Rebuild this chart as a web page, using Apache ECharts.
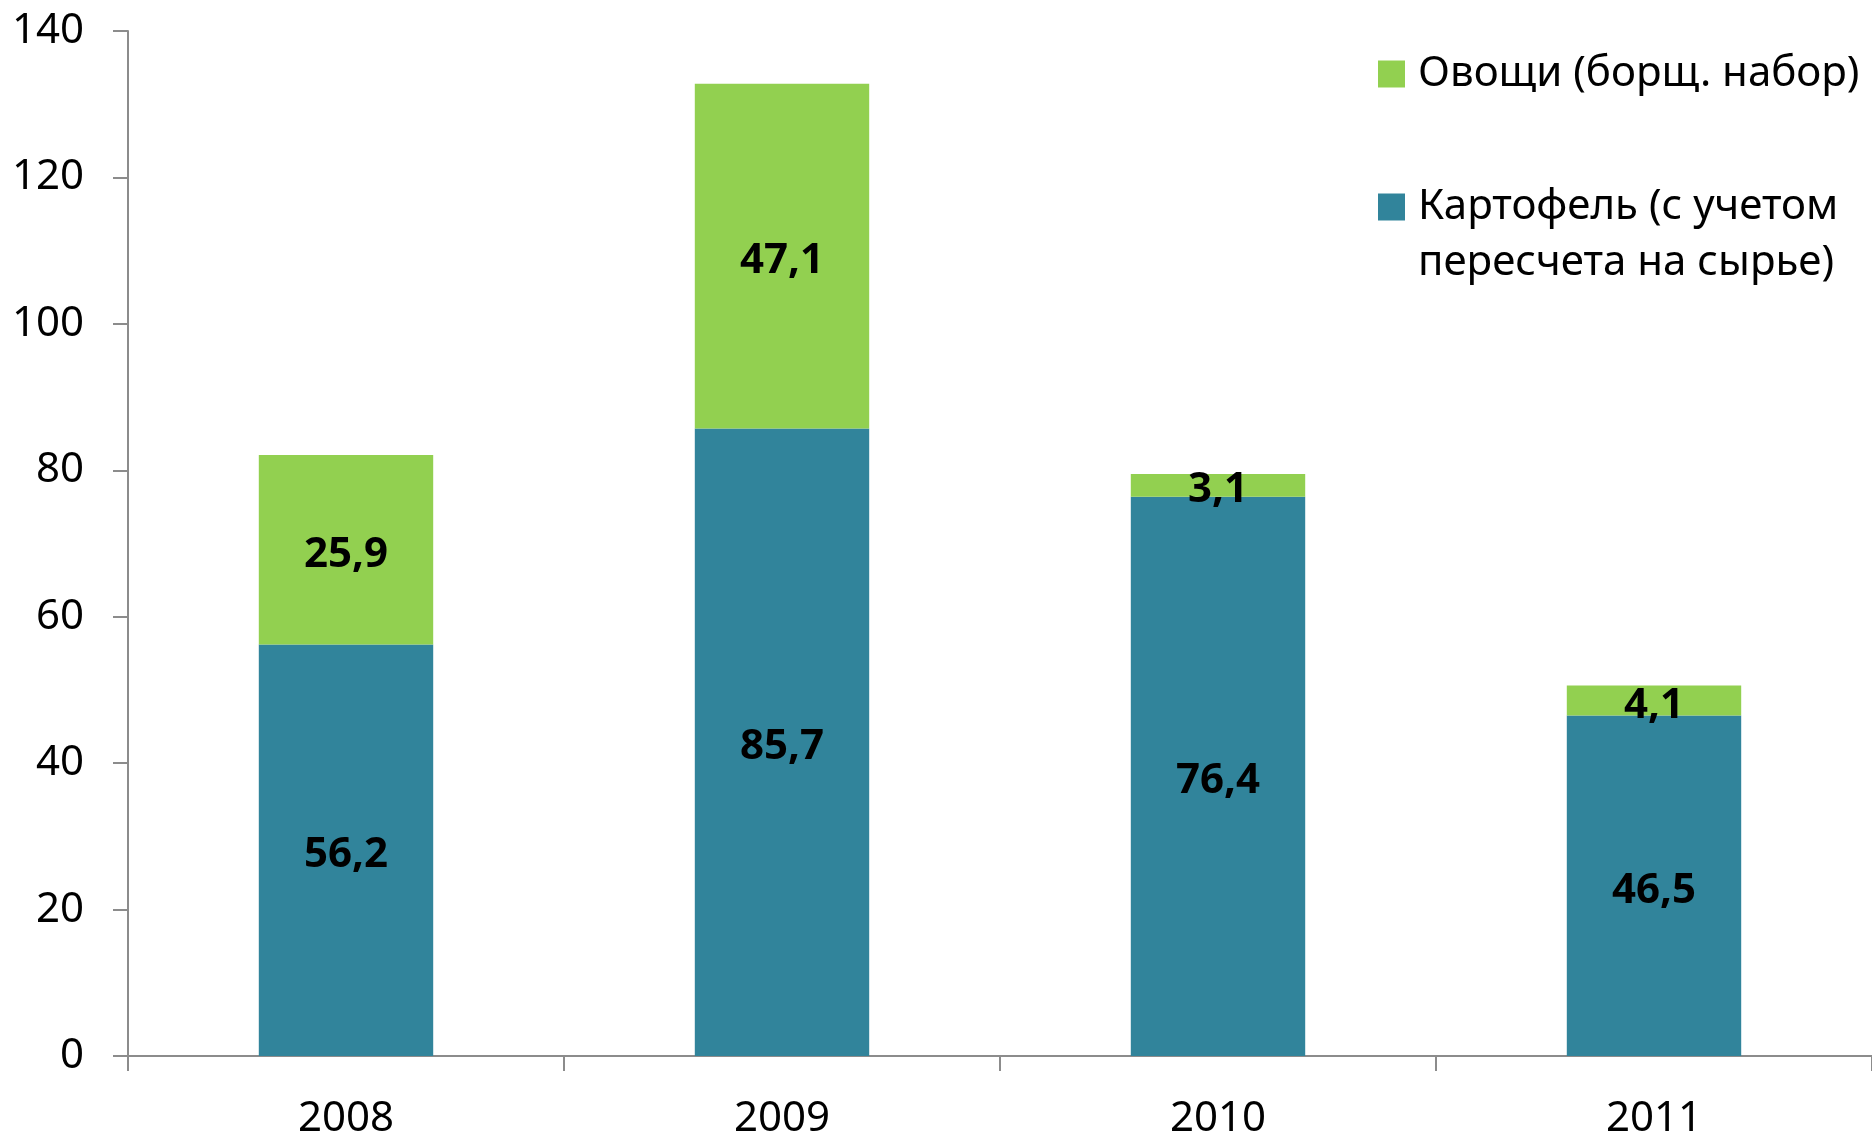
<!DOCTYPE html>
<html lang="ru">
<head>
    <meta charset="UTF-8">
    <title>Овощи и картофель</title>
    <script src="https://cdn.jsdelivr.net/npm/echarts@6/dist/echarts.min.js"></script>
    <style>
        html, body { margin: 0; padding: 0; background: #fff; }
    </style>
</head>
<body>

<div id="main" style="width: 1872px;height: 1140px"></div>

<script>
    // данные
    var years = ['2008', '2009', '2010', '2011'];
    var potato = [56.2, 85.7, 76.4, 46.5];
    var vegetables = [25.9, 47.1, 3.1, 4.1];
    var potatoName = 'Картофель (с учетом\nпересчета на сырье)';
    var vegName = 'Овощи (борщ. набор)';

    var font = '"Noto Sans", "DejaVu Sans", sans-serif';
    var axisColor = '#8c8c8c';

    var myChart = echarts.init(document.getElementById('main'));

    function labelFmt(p) {
        return String(p.value).replace('.', ',');
    }

    var option = {
        animation: false,
        grid: {
            left: 128,
            right: 0,
            top: 31,
            bottom: 81
        },
        legend: {
            orient: 'vertical',
            left: 1378,
            top: 46,
            padding: 0,
            itemGap: 21,
            itemWidth: 27,
            itemHeight: 27,
            icon: 'rect',
            data: [vegName, potatoName],
            // пустая строка сверху, чтобы значок стоял напротив первой строки
            formatter: function (name) {
                return name === potatoName ? '\n' + name : name;
            },
            textStyle: {
                fontFamily: font,
                fontSize: 42,
                lineHeight: 56,
                color: '#000',
                padding: [0, 0, 0, 8]
            }
        },
        xAxis: {
            type: 'category',
            data: years,
            axisLine: { lineStyle: { color: axisColor, width: 2 } },
            axisTick: {
                show: true,
                length: 15,
                lineStyle: { color: axisColor, width: 2 }
            },
            axisLabel: {
                fontFamily: font,
                fontSize: 42,
                color: '#000',
                margin: 42
            }
        },
        yAxis: {
            type: 'value',
            min: 0,
            max: 140,
            interval: 20,
            splitLine: { show: false },
            axisLine: { show: true, lineStyle: { color: axisColor, width: 2 } },
            axisTick: {
                show: true,
                length: 15,
                lineStyle: { color: axisColor, width: 2 }
            },
            axisLabel: {
                fontFamily: font,
                fontSize: 42,
                color: '#000',
                margin: 44
            }
        },
        series: [
            {
                name: potatoName,
                type: 'bar',
                stack: 'total',
                barCategoryGap: '60%',
                itemStyle: { color: '#31849B' },
                label: {
                    show: true,
                    position: 'inside',
                    offset: [0, 5],
                    fontFamily: font,
                    fontSize: 42,
                    fontWeight: 'bold',
                    color: '#000',
                    formatter: labelFmt
                },
                data: potato
            },
            {
                name: vegName,
                type: 'bar',
                stack: 'total',
                barCategoryGap: '60%',
                itemStyle: { color: '#92D050' },
                label: {
                    show: true,
                    position: 'inside',
                    offset: [0, 5],
                    fontFamily: font,
                    fontSize: 42,
                    fontWeight: 'bold',
                    color: '#000',
                    formatter: labelFmt
                },
                data: vegetables
            }
        ]
    };

    myChart.setOption(option);
</script>

</body>
</html>
